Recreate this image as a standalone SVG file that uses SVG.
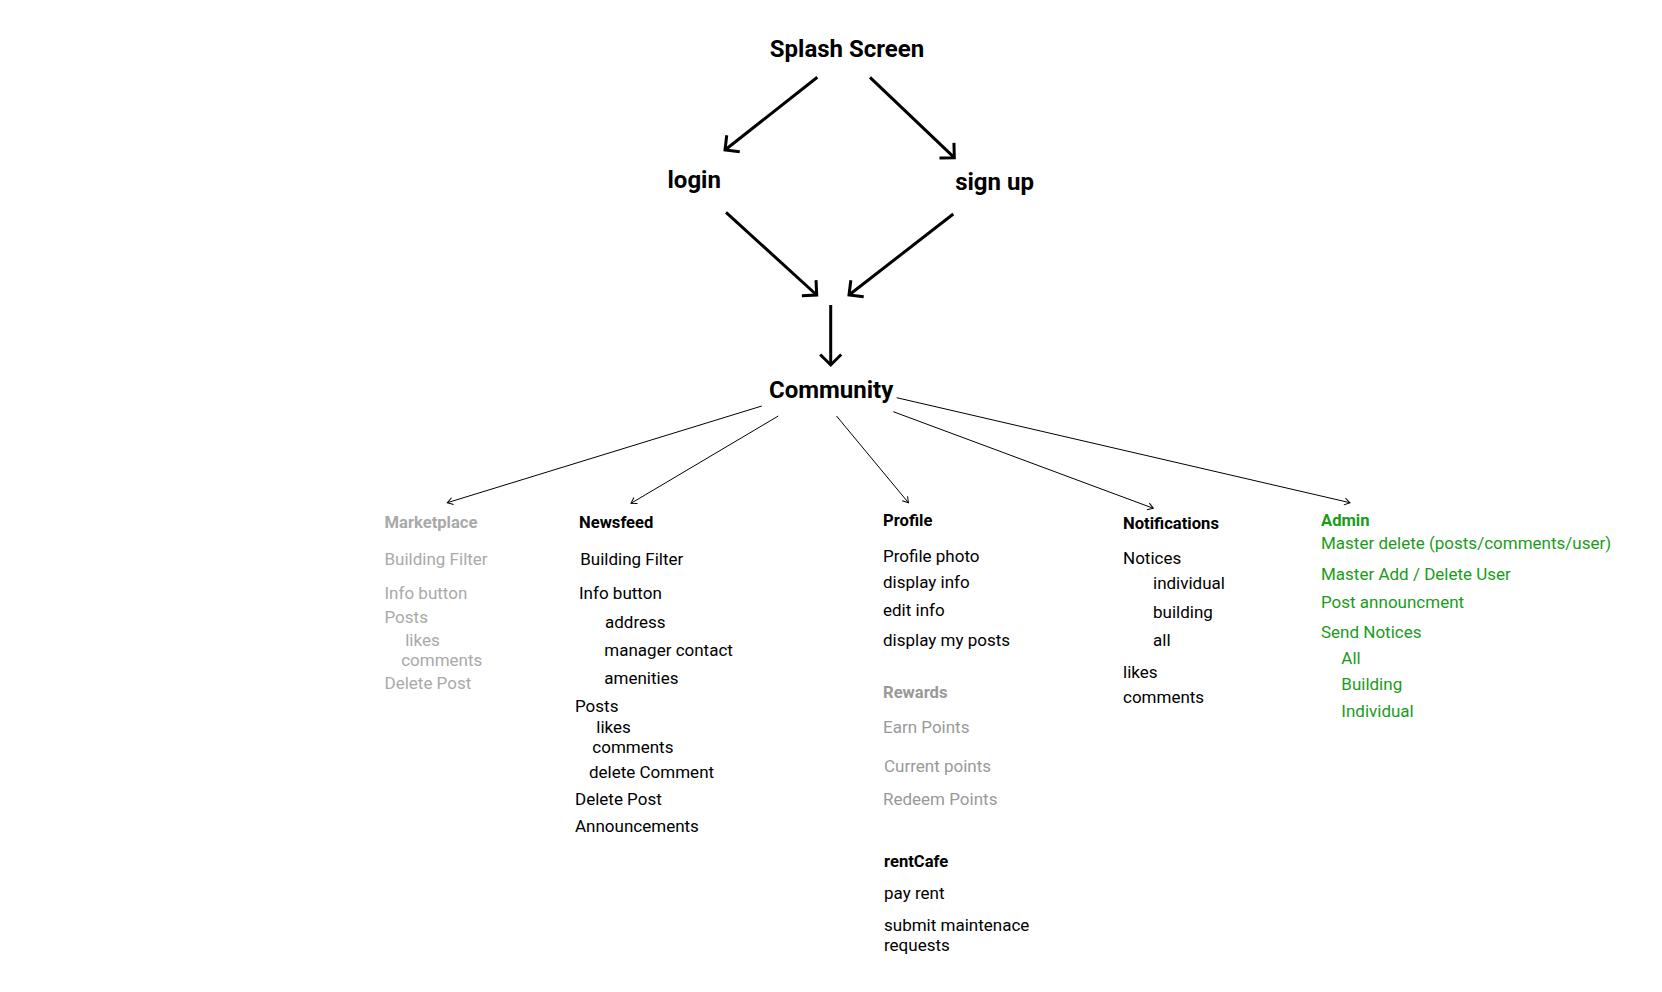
<svg xmlns="http://www.w3.org/2000/svg" width="1662" height="992" viewBox="0 0 1662 992">
<style>
text{font-family:Roboto,"Liberation Sans",sans-serif;font-size:17px;fill:#000}
.big{font-size:24px;font-weight:700}
.hd{font-weight:700;font-size:16.6px}
.gl{fill:#a9a9a9}
.gd{fill:#999999}
.gr{fill:#1a9c1a}
.thick{stroke:#000;stroke-width:3;fill:none;marker-end:url(#mThick)}
.thin{stroke:#000;stroke-width:1;fill:none;marker-end:url(#mThin)}
</style>
<defs>
<marker id="mThick" markerUnits="userSpaceOnUse" viewBox="-16 -16 20 32" markerWidth="20" markerHeight="32" refX="0" refY="0" orient="auto">
<path d="M-10.5 -10.5 L0 0 L-10.5 10.5" fill="none" stroke="#000" stroke-width="3"/>
</marker>
<marker id="mThin" markerUnits="userSpaceOnUse" viewBox="-8 -6 10 12" markerWidth="10" markerHeight="12" refX="0" refY="0" orient="auto">
<path d="M-5.5 -3.5 L0 0 L-5.5 3.5" fill="none" stroke="#000" stroke-width="1"/>
</marker>
</defs>
<rect width="1662" height="992" fill="#fff"/>
<g id="connectors">
<line class="thick" x1="817.3" y1="77.3" x2="725" y2="150"/>
<line class="thick" x1="870" y1="77.3" x2="954.3" y2="157.7"/>
<line class="thick" x1="726" y1="212.3" x2="816.7" y2="295"/>
<line class="thick" x1="953.3" y1="214" x2="849" y2="295"/>
<line class="thick" x1="830.7" y1="305" x2="830.7" y2="365"/>
<line class="thin" x1="761.8" y1="406" x2="447.3" y2="502.7"/>
<line class="thin" x1="778.3" y1="416" x2="631" y2="503.3"/>
<line class="thin" x1="836.5" y1="416" x2="908.4" y2="502.7"/>
<line class="thin" x1="893.3" y1="411.7" x2="1153.3" y2="508.3"/>
<line class="thin" x1="896.7" y1="397.7" x2="1350" y2="502.7"/>
</g>
<g id="splash"><text class="big" x="769.8" y="56.7">Splash Screen</text></g>
<g id="login"><text class="big" x="667.5" y="188.3">login</text></g>
<g id="signup"><text class="big" x="955.2" y="190">sign up</text></g>
<g id="community"><text class="big" x="769" y="397.5">Community</text></g>
<g id="marketplace">
<text class="hd gl" x="384.5" y="528.3">Marketplace</text>
<text class="gl" x="384.5" y="565">Building Filter</text>
<text class="gl" x="384.5" y="599">Info button</text>
<text class="gl" x="384.5" y="623.3">Posts</text>
<text class="gl" x="405.2" y="645.7">likes</text>
<text class="gl" x="401.2" y="665.7">comments</text>
<text class="gl" x="384.5" y="689.3">Delete Post</text>
</g>
<g id="newsfeed">
<text class="hd" x="579" y="528.3">Newsfeed</text>
<text x="580.2" y="565">Building Filter</text>
<text x="579" y="599">Info button</text>
<text x="605" y="627.7">address</text>
<text x="604.3" y="656">manager contact</text>
<text x="604.3" y="684">amenities</text>
<text x="575" y="712">Posts</text>
<text x="596.3" y="733.3">likes</text>
<text x="592.3" y="753.3">comments</text>
<text x="589" y="778.3">delete Comment</text>
<text x="575" y="805">Delete Post</text>
<text x="575" y="832.3">Announcements</text>
</g>
<g id="profile">
<text class="hd" x="883" y="526">Profile</text>
<text x="883" y="561.7">Profile photo</text>
<text x="883" y="588.3">display info</text>
<text x="883" y="616">edit info</text>
<text x="883" y="646">display my posts</text>
</g>
<g id="rewards">
<text class="hd gd" x="883" y="698.3">Rewards</text>
<text class="gd" x="883" y="733.3">Earn Points</text>
<text class="gd" x="884" y="772.3">Current points</text>
<text class="gd" x="883" y="805">Redeem Points</text>
</g>
<g id="rentcafe">
<text class="hd" x="884" y="866.7">rentCafe</text>
<text x="884" y="899">pay rent</text>
<text x="884" y="931">submit maintenace</text>
<text x="884" y="951">requests</text>
</g>
<g id="notifications">
<text class="hd" x="1123" y="529">Notifications</text>
<text x="1123" y="564">Notices</text>
<text x="1153" y="589">individual</text>
<text x="1153" y="618">building</text>
<text x="1153" y="646">all</text>
<text x="1123" y="677.7">likes</text>
<text x="1123" y="702.7">comments</text>
</g>
<g id="admin">
<text class="hd gr" x="1321" y="526">Admin</text>
<text class="gr" x="1321" y="549.3">Master delete (posts/comments/user)</text>
<text class="gr" x="1321" y="580">Master Add / Delete User</text>
<text class="gr" x="1321" y="608.3">Post announcment</text>
<text class="gr" x="1321" y="637.7">Send Notices</text>
<text class="gr" x="1341.3" y="664.3">All</text>
<text class="gr" x="1341.3" y="690">Building</text>
<text class="gr" x="1341.3" y="716.7">Individual</text>
</g>
</svg>
